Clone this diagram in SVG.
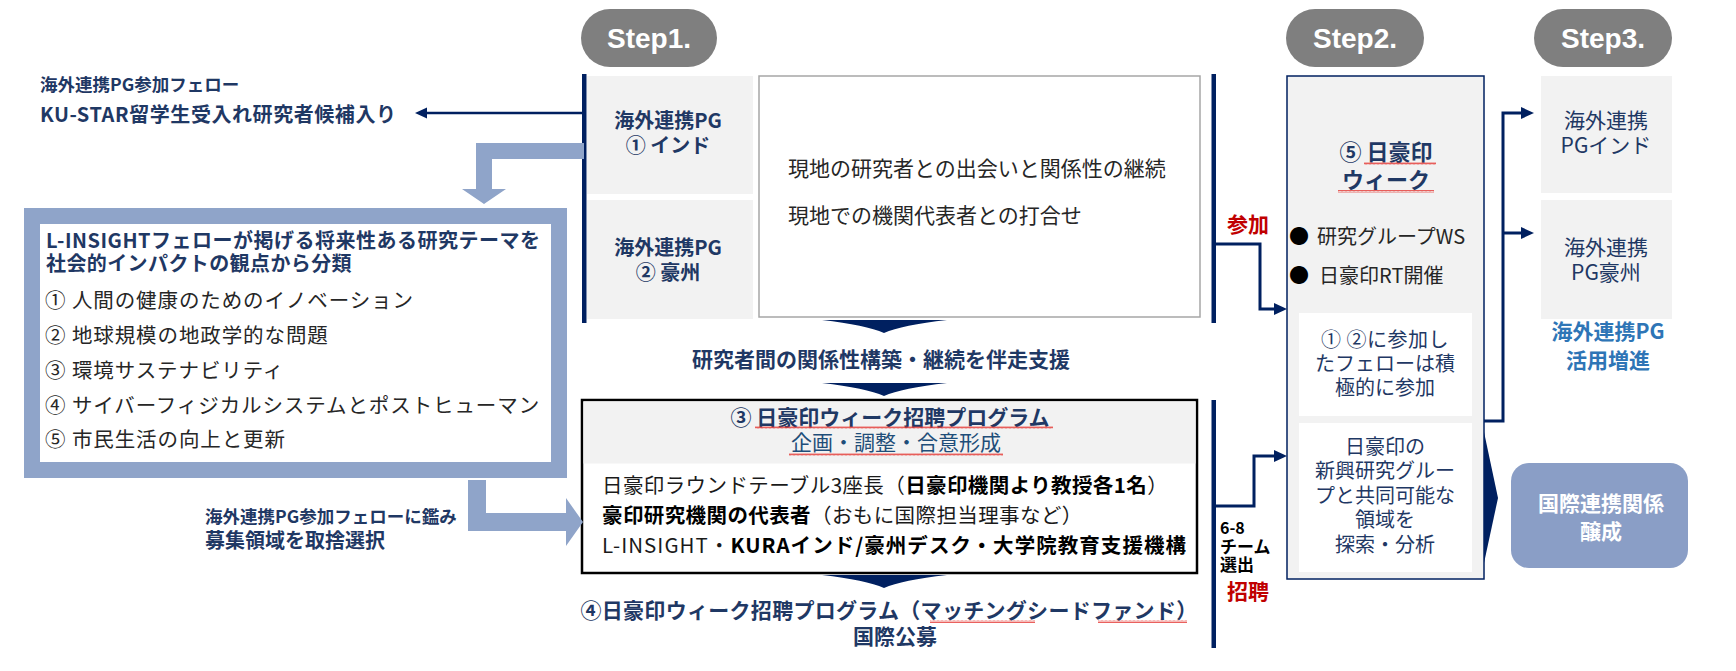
<svg xmlns="http://www.w3.org/2000/svg" width="1736" height="671" viewBox="0 0 1736 671">
<defs>
<style>
text{font-family:"Noto Sans CJK JP","Noto Sans",sans-serif;}
.b{font-weight:700}
.nv{fill:#1f3864}
.blk{fill:#262626}
.red{fill:#c00000}
.c{text-anchor:middle}
.pill{fill:#7f7f7f}
.stept{font-family:"Liberation Sans",Arial,sans-serif;font-weight:700;font-size:28px;fill:#fff;text-anchor:middle}
.gbox{fill:#f2f2f2}
.wbox{fill:#fff}
.li{font-size:20.5px;letter-spacing:0.9px;fill:#262626}
.conn{stroke:#002060;stroke-width:3;fill:none}
.navy{fill:#002060}
.lb{fill:#8fa4c9}
.sq{fill:url(#wavy)}
</style>
<pattern id="wavy" x="0" y="0" width="4" height="3" patternUnits="userSpaceOnUse">
<path d="M0,2.5 L1,0.5 L2,2.5 L3,0.5 L4,2.5" fill="none" stroke="#e53935" stroke-width="0.8"/>
</pattern>
</defs>

<!-- Step pills -->
<g id="step1">
<rect class="pill" x="581" y="9" width="136" height="58" rx="29"/>
<text class="stept" x="649" y="48">Step1.</text>
</g>
<g id="step2">
<rect class="pill" x="1286" y="9" width="138" height="58" rx="29"/>
<text class="stept" x="1355" y="48">Step2.</text>
</g>
<g id="step3">
<rect class="pill" x="1534" y="9" width="138" height="58" rx="29"/>
<text class="stept" x="1603" y="48">Step3.</text>
</g>

<!-- Left notes -->
<g id="ku-star-note">
<text x="40" y="91" class="b nv" font-size="17.5">海外連携PG参加フェロー</text>
<text x="40" y="122" class="b nv" font-size="20" textLength="356" lengthAdjust="spacing">KU-STAR留学生受入れ研究者候補入り</text>
</g>

<g id="l-insight">
<rect x="32" y="216" width="527" height="254" fill="#fff" stroke="#8fa4c9" stroke-width="16"/>
<text x="46" y="248" class="b nv" font-size="20" textLength="494" lengthAdjust="spacing">L-INSIGHTフェローが掲げる将来性ある研究テーマを</text>
<text x="46" y="271" class="b nv" font-size="20" letter-spacing="0.4">社会的インパクトの観点から分類</text>
<text x="45" y="308" class="li">① 人間の健康のためのイノベーション</text>
<text x="45" y="343" class="li">② 地球規模の地政学的な問題</text>
<text x="45" y="378" class="li">③ 環境サステナビリティ</text>
<text x="45" y="413" class="li">④ サイバーフィジカルシステムとポストヒューマン</text>
<text x="45" y="447" class="li">⑤ 市民生活の向上と更新</text>
</g>

<g id="select-note">
<text x="205" y="523" class="b nv" font-size="17.5">海外連携PG参加フェローに鑑み</text>
<text x="205" y="548" class="b nv" font-size="20">募集領域を取捨選択</text>
</g>

<!-- Step1 -->
<g id="pg-india">
<rect class="gbox" x="587" y="76" width="166" height="118"/>
<text class="b nv c" x="668" y="128" font-size="20">海外連携PG</text>
<text class="b nv c" x="668" y="153" font-size="20">① インド</text>
</g>
<g id="pg-australia">
<rect class="gbox" x="587" y="200" width="166" height="119"/>
<text class="b nv c" x="668" y="255" font-size="20">海外連携PG</text>
<text class="b nv c" x="668" y="280" font-size="20">② 豪州</text>
</g>
<g id="local-activities">
<rect x="759" y="76" width="441" height="241" fill="#fff" stroke="#a6a6a6" stroke-width="1.5"/>
<text x="788" y="176" class="blk" font-size="21">現地の研究者との出会いと関係性の継続</text>
<text x="788" y="223" class="blk" font-size="21">現地での機関代表者との打合せ</text>
</g>

<g id="support-label">
<text class="b nv c" x="881" y="367" font-size="21">研究者間の関係性構築・継続を伴走支援</text>
</g>

<g id="program3">
<rect x="582" y="400" width="615" height="173" fill="#fff" stroke="#000" stroke-width="2.5"/>
<rect class="gbox" x="583.5" y="401.5" width="612" height="62"/>
<text class="b nv c" x="890" y="425" font-size="21">③ 日豪印ウィーク招聘プログラム</text>
<rect class="sq" x="755" y="426" width="298" height="3"/>
<text class="c" x="896" y="450" font-size="21" fill="#1f4e79">企画・調整・合意形成</text>
<rect class="sq" x="789" y="453" width="214" height="3"/>
<text x="602" y="493" font-size="20.5" letter-spacing="0.4" fill="#1a1a1a">日豪印ラウンドテーブル3座長（<tspan class="b" fill="#000">日豪印機関より教授各1名</tspan>）</text>
<text x="602" y="523" font-size="20.5" letter-spacing="0.4" fill="#1a1a1a"><tspan class="b" fill="#000">豪印研究機関の代表者</tspan>（おもに国際担当理事など）</text>
<text x="602" y="553" font-size="20.5" fill="#1a1a1a" textLength="584" lengthAdjust="spacing">L-INSIGHT・<tspan class="b" fill="#000">KURAインド/豪州デスク・大学院教育支援機構</tspan></text>
</g>

<g id="program4">
<text class="b nv c" x="889" y="618" font-size="21" letter-spacing="0.3">④日豪印ウィーク招聘プログラム（マッチングシードファンド）</text>
<rect class="sq" x="930" y="620" width="105" height="3"/>
<rect class="sq" x="1098" y="620" width="89" height="3"/>
<text class="b nv c" x="895" y="644" font-size="21">国際公募</text>
</g>

<!-- labels on right connectors -->
<g id="label-sanka">
<text class="b red" x="1227" y="232" font-size="21">参加</text>
</g>
<g id="label-invite">
<text class="b" x="1220" y="534" font-size="16" fill="#000">6-8</text>
<text class="b" x="1220" y="553" font-size="17" fill="#000">チーム</text>
<text class="b" x="1220" y="571" font-size="17" fill="#000">選出</text>
<text class="b red" x="1227" y="599" font-size="21">招聘</text>
</g>

<!-- Step2 -->
<g id="week5">
<rect x="1287" y="76" width="197" height="503" fill="#f2f2f2" stroke="#002060" stroke-width="1.5"/>
<text class="b nv c" x="1386" y="160" font-size="22">⑤ 日豪印</text>
<rect class="sq" x="1364" y="162" width="72" height="3"/>
<text class="b nv c" x="1386" y="188" font-size="22">ウィーク</text>
<rect class="sq" x="1338" y="190" width="96" height="3"/>
<text x="1289" y="244" font-size="20" fill="#000">●<tspan x="1317" class="blk">研究グループWS</tspan></text>
<text x="1289" y="283" font-size="20" fill="#000">●<tspan x="1319" class="blk">日豪印RT開催</tspan></text>
<rect class="wbox" x="1299" y="313" width="173" height="103"/>
<text class="nv c" x="1385" y="347" font-size="20" letter-spacing="0.5">① ②に参加し</text>
<text class="nv c" x="1385" y="371" font-size="20">たフェローは積</text>
<text class="nv c" x="1385" y="395" font-size="20">極的に参加</text>
<rect class="wbox" x="1299" y="423" width="173" height="149"/>
<text class="nv c" x="1385" y="454" font-size="20">日豪印の</text>
<text class="nv c" x="1385" y="478" font-size="20">新興研究グルー</text>
<text class="nv c" x="1385" y="503" font-size="20">プと共同可能な</text>
<text class="nv c" x="1385" y="527" font-size="20">領域を</text>
<text class="nv c" x="1385" y="552" font-size="20">探索・分析</text>
</g>

<!-- Step3 -->
<g id="pg-india-3">
<rect class="gbox" x="1541" y="76" width="131" height="117"/>
<text class="nv c" x="1606" y="128" font-size="21">海外連携</text>
<text class="nv c" x="1606" y="153" font-size="21">PGインド</text>
</g>
<g id="pg-australia-3">
<rect class="gbox" x="1541" y="200" width="131" height="119"/>
<text class="nv c" x="1606" y="255" font-size="21">海外連携</text>
<text class="nv c" x="1606" y="280" font-size="21">PG豪州</text>
</g>
<g id="pg-promote">
<text class="b c" x="1608" y="339" font-size="21" fill="#2e75b6">海外連携PG</text>
<text class="b c" x="1608" y="368" font-size="21" fill="#2e75b6">活用増進</text>
</g>
<g id="intl-relations">
<rect x="1511" y="463" width="177" height="105" rx="18" fill="#8a9ec6"/>
<text class="b c" x="1601" y="511" font-size="21" fill="#fff">国際連携関係</text>
<text class="b c" x="1601" y="539" font-size="21" fill="#fff">醸成</text>
</g>

<!-- Connectors -->
<g id="connectors">
<rect class="navy" x="582" y="74" width="4.5" height="249"/>
<rect class="navy" x="1211.5" y="74" width="4.5" height="249"/>
<rect class="navy" x="1211.5" y="400" width="4.5" height="248"/>
<line x1="583" y1="113" x2="425" y2="113" stroke="#002060" stroke-width="2.5"/>
<polygon class="navy" points="415,113 427,107.5 427,118.5"/>
<path class="lb" d="M584,143 H476 V189 H462 L484,204 L506,189 H492 V159 H584 Z"/>
<path class="lb" d="M468,480 V531 H566 V546 L583,522 L566,498 V513 H486 V480 Z"/>
<path class="navy" d="M822,320 H947 Q902,325 884,333 Q866,325 822,320 Z"/>
<path class="navy" d="M822,383 H947 Q902,388 884,396 Q866,388 822,383 Z"/>
<path class="navy" d="M822,575 H947 Q902,580 884,588 Q866,580 822,575 Z"/>
<path class="conn" d="M1216,244 H1260 V309 H1276"/>
<polygon class="navy" points="1287,309 1274,303 1274,315"/>
<path class="conn" d="M1216,506 H1254 V456 H1276"/>
<polygon class="navy" points="1287,456 1274,450 1274,462"/>
<path class="conn" d="M1484,421 H1503 V113 H1523"/>
<polygon class="navy" points="1534,113 1521,107 1521,119"/>
<path class="conn" d="M1503,233 H1523"/>
<polygon class="navy" points="1534,233 1521,227 1521,239"/>
<polygon class="navy" points="1484,432 1498,498 1484,563"/>
</g>
</svg>
